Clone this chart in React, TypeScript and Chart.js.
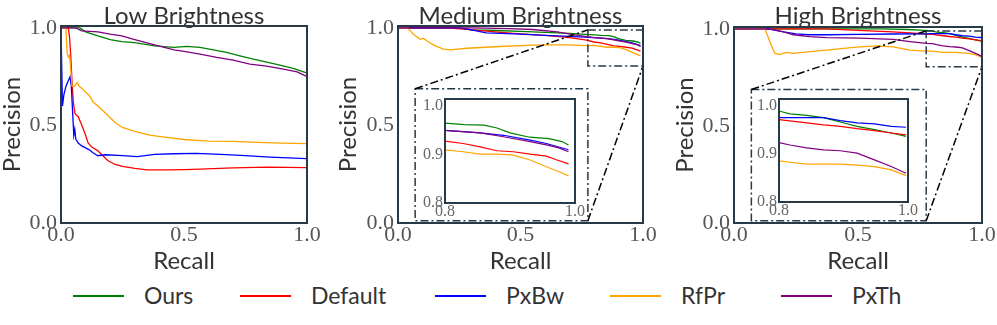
import React, { useEffect, useRef } from 'react';
import { Chart, registerables } from 'chart.js';

Chart.register(...registerables);

// ---------------- data ----------------
const SERIES_NAMES = ['Ours', 'Default', 'PxBw', 'RfPr', 'PxTh'];
const SERIES_COLORS = ['#008000', '#ff0000', '#0000ff', '#ffa500', '#800080'];
const PANEL_TITLES = ['Low Brightness', 'Medium Brightness', 'High Brightness'];
const MAIN_TICKS = [0, 0.5, 1.0];
const INSET_TICKS_X = [0.8, 1.0];
const INSET_TICKS_Y = [0.8, 0.9, 1.0];
const ZOOM_X = [0.775, 1.0];
const ZOOM_Y = [0.805, 0.99];

// Low brightness
const lowOursRecall = [0, 0.077, 0.1, 0.15, 0.2, 0.247, 0.3, 0.38, 0.46, 0.511, 0.565, 0.619, 0.673, 0.727, 0.782, 0.836, 0.89, 0.944, 0.998];
const lowOursPrecision = [1, 1, 0.98, 0.959, 0.94, 0.93, 0.925, 0.908, 0.9, 0.906, 0.9, 0.888, 0.875, 0.857, 0.84, 0.825, 0.81, 0.793, 0.77];
const lowDefaultRecall = [0, 0.03, 0.035, 0.04, 0.045, 0.05, 0.057, 0.07, 0.085, 0.1, 0.11, 0.125, 0.15, 0.17, 0.19, 0.22, 0.25, 0.3, 0.35, 0.43, 0.5, 0.565, 0.7, 0.836, 0.998];
const lowDefaultPrecision = [1, 1, 0.95, 0.85, 0.72, 0.62, 0.56, 0.545, 0.5, 0.45, 0.41, 0.39, 0.37, 0.345, 0.32, 0.3, 0.29, 0.28, 0.272, 0.272, 0.274, 0.276, 0.283, 0.286, 0.284];
const lowPxBwRecall = [0, 0.004, 0.006, 0.012, 0.02, 0.03, 0.037, 0.042, 0.048, 0.052, 0.056, 0.06, 0.07, 0.084, 0.1, 0.115, 0.13, 0.15, 0.18, 0.25, 0.31, 0.38, 0.46, 0.55, 0.65, 0.75, 0.85, 0.998];
const lowPxBwPrecision = [1, 1, 0.6, 0.66, 0.7, 0.73, 0.75, 0.7, 0.55, 0.45, 0.48, 0.43, 0.41, 0.395, 0.385, 0.375, 0.36, 0.345, 0.35, 0.345, 0.34, 0.352, 0.355, 0.357, 0.352, 0.345, 0.338, 0.33];
const lowRfPrRecall = [0, 0.02, 0.025, 0.03, 0.035, 0.04, 0.045, 0.055, 0.065, 0.075, 0.085, 0.1, 0.11, 0.12, 0.13, 0.15, 0.175, 0.2, 0.225, 0.25, 0.3, 0.36, 0.42, 0.5, 0.6, 0.7, 0.8, 0.9, 0.998];
const lowRfPrPrecision = [1, 1, 0.87, 0.85, 0.86, 0.78, 0.7, 0.7, 0.72, 0.7, 0.69, 0.67, 0.66, 0.645, 0.62, 0.6, 0.57, 0.54, 0.51, 0.49, 0.47, 0.45, 0.44, 0.428, 0.42, 0.418, 0.413, 0.41, 0.407];
const lowPxThRecall = [0, 0.06, 0.084, 0.15, 0.2, 0.247, 0.3, 0.38, 0.46, 0.5, 0.565, 0.633, 0.7, 0.768, 0.836, 0.904, 0.96, 0.998];
const lowPxThPrecision = [1, 1, 0.985, 0.98, 0.968, 0.959, 0.94, 0.913, 0.888, 0.88, 0.866, 0.849, 0.835, 0.815, 0.804, 0.789, 0.775, 0.752];

// Medium brightness
const medOursRecall = [0, 0.25, 0.3, 0.4, 0.5, 0.6, 0.7, 0.8, 0.83, 0.86, 0.88, 0.9, 0.93, 0.96, 0.98, 0.99];
const medOursPrecision = [1, 1, 0.99, 0.987, 0.982, 0.977, 0.972, 0.965, 0.962, 0.961, 0.955, 0.945, 0.936, 0.933, 0.927, 0.92];
const medDefaultRecall = [0, 0.2, 0.28, 0.35, 0.42, 0.5, 0.6, 0.7, 0.77, 0.8, 0.828, 0.854, 0.88, 0.905, 0.931, 0.956, 0.97, 0.99];
const medDefaultPrecision = [1, 1, 0.993, 0.985, 0.977, 0.97, 0.962, 0.95, 0.938, 0.928, 0.923, 0.916, 0.908, 0.906, 0.901, 0.897, 0.89, 0.881];
const medPxBwRecall = [0, 0.25, 0.3, 0.36, 0.42, 0.5, 0.6, 0.7, 0.8, 0.854, 0.89, 0.931, 0.956, 0.99];
const medPxBwPrecision = [1, 1, 0.99, 0.975, 0.972, 0.968, 0.962, 0.957, 0.95, 0.945, 0.94, 0.93, 0.923, 0.91];
const medRfPrRecall = [0, 0.04, 0.05, 0.063, 0.09, 0.104, 0.117, 0.144, 0.185, 0.212, 0.28, 0.416, 0.552, 0.62, 0.69, 0.77, 0.8, 0.828, 0.854, 0.88, 0.905, 0.931, 0.956, 0.982, 0.99];
const medRfPrPrecision = [1, 1, 0.985, 0.968, 0.942, 0.947, 0.934, 0.913, 0.891, 0.888, 0.896, 0.905, 0.912, 0.913, 0.913, 0.909, 0.91, 0.906, 0.901, 0.901, 0.899, 0.889, 0.875, 0.861, 0.856];
const medPxThRecall = [0, 0.3, 0.45, 0.55, 0.65, 0.72, 0.8, 0.854, 0.89, 0.931, 0.956, 0.975, 0.99];
const medPxThPrecision = [1, 1, 0.997, 0.992, 0.98, 0.965, 0.95, 0.945, 0.937, 0.927, 0.92, 0.914, 0.906];

// High brightness
const highOursRecall = [0, 0.6, 0.7, 0.75, 0.8, 0.817, 0.843, 0.869, 0.895, 0.921, 0.948, 0.974, 0.997];
const highOursPrecision = [1, 1, 0.997, 0.994, 0.99, 0.984, 0.981, 0.976, 0.967, 0.958, 0.951, 0.944, 0.937];
const highDefaultRecall = [0, 0.37, 0.5, 0.64, 0.777, 0.8, 0.843, 0.869, 0.895, 0.921, 0.948, 0.974, 0.997];
const highDefaultPrecision = [1, 1, 0.993, 0.985, 0.974, 0.972, 0.965, 0.961, 0.958, 0.953, 0.949, 0.944, 0.94];
const highPxBwRecall = [0, 0.14, 0.2, 0.25, 0.3, 0.374, 0.5, 0.64, 0.777, 0.8, 0.869, 0.895, 0.921, 0.948, 0.974, 0.997];
const highPxBwPrecision = [1, 1, 0.985, 0.975, 0.97, 0.97, 0.972, 0.974, 0.975, 0.976, 0.976, 0.97, 0.965, 0.963, 0.958, 0.956];
const highRfPrRecall = [0, 0.125, 0.14, 0.155, 0.165, 0.185, 0.212, 0.239, 0.306, 0.374, 0.441, 0.508, 0.575, 0.642, 0.71, 0.777, 0.8, 0.817, 0.843, 0.895, 0.921, 0.948, 0.974, 0.997];
const highRfPrPrecision = [1, 1, 0.95, 0.9, 0.874, 0.869, 0.879, 0.874, 0.883, 0.891, 0.9, 0.908, 0.913, 0.908, 0.891, 0.886, 0.886, 0.883, 0.879, 0.879, 0.877, 0.874, 0.867, 0.855];
const highPxThRecall = [0, 0.14, 0.2, 0.24, 0.306, 0.374, 0.508, 0.642, 0.71, 0.777, 0.8, 0.817, 0.843, 0.869, 0.895, 0.921, 0.948, 0.974, 0.997];
const highPxThPrecision = [1, 1, 0.985, 0.97, 0.96, 0.955, 0.953, 0.946, 0.935, 0.926, 0.924, 0.919, 0.913, 0.909, 0.907, 0.902, 0.888, 0.874, 0.86];

type Series = { r: number[]; p: number[] };
const PANEL_SERIES: Series[][] = [
  [
    { r: lowOursRecall, p: lowOursPrecision },
    { r: lowDefaultRecall, p: lowDefaultPrecision },
    { r: lowPxBwRecall, p: lowPxBwPrecision },
    { r: lowRfPrRecall, p: lowRfPrPrecision },
    { r: lowPxThRecall, p: lowPxThPrecision },
  ],
  [
    { r: medOursRecall, p: medOursPrecision },
    { r: medDefaultRecall, p: medDefaultPrecision },
    { r: medPxBwRecall, p: medPxBwPrecision },
    { r: medRfPrRecall, p: medRfPrPrecision },
    { r: medPxThRecall, p: medPxThPrecision },
  ],
  [
    { r: highOursRecall, p: highOursPrecision },
    { r: highDefaultRecall, p: highDefaultPrecision },
    { r: highPxBwRecall, p: highPxBwPrecision },
    { r: highRfPrRecall, p: highRfPrPrecision },
    { r: highPxThRecall, p: highPxThPrecision },
  ],
];

// ---------------- layout / style ----------------
const SPINE = '#263a48';
const TICK_COLOR = '#555';
const TEXT_COLOR = '#333';
const SERIF = "'Liberation Serif', 'DejaVu Serif', serif";
const MAIN_LAYOUT = [
  { left: 0, width: 330, yWidth: 61, padRight: 23, titleBottom: -2, inset: false },
  { left: 336, width: 330, yWidth: 62, padRight: 23, titleBottom: -2, inset: true },
  { left: 673, width: 324, yWidth: 61, padRight: 15, titleBottom: -1, inset: true },
];
const INSET_LAYOUT: Record<number, { left: number; top: number; width: number; height: number; padTop: number }> = {
  1: { left: 418, top: 89, width: 172, height: 133, padTop: 10 },
  2: { left: 752, top: 89, width: 171, height: 132, padTop: 9 },
};
// inset frame in the main axes' data units
const FRAME_X = [0.07, 0.775];
const FRAME_Y = [0.012, 0.688];
const LEGEND_X = [73, 240, 435, 610, 781];

function buildDatasets(series: Series[], width: number) {
  return series.map((s, k) => ({
    label: SERIES_NAMES[k],
    data: s.r.map((x, j) => ({ x, y: s.p[j] })),
    borderColor: SERIES_COLORS[k],
    backgroundColor: SERIES_COLORS[k],
    borderWidth: width,
    pointRadius: 0,
    pointHoverRadius: 0,
    fill: false,
    tension: 0,
    order: SERIES_NAMES.length - k,
  }));
}

const spinePlugin = {
  id: 'spineBox',
  afterDraw(chart: any) {
    const { ctx, chartArea: a } = chart;
    ctx.save();
    ctx.strokeStyle = SPINE;
    ctx.lineWidth = 2;
    ctx.setLineDash([]);
    ctx.strokeRect(a.left, a.top, a.right - a.left, a.bottom - a.top);
    ctx.restore();
  },
};

const zoomPlugin = {
  id: 'zoomMarks',
  afterDatasetsDraw(chart: any) {
    const { ctx } = chart;
    const xs = chart.scales.x;
    const ys = chart.scales.y;
    const rx0 = xs.getPixelForValue(ZOOM_X[0]);
    const rx1 = xs.getPixelForValue(ZOOM_X[1]);
    const ry0 = ys.getPixelForValue(ZOOM_Y[0]);
    const ry1 = ys.getPixelForValue(ZOOM_Y[1]);
    const fx0 = xs.getPixelForValue(FRAME_X[0]);
    const fx1 = xs.getPixelForValue(FRAME_X[1]);
    const fy0 = ys.getPixelForValue(FRAME_Y[0]);
    const fy1 = ys.getPixelForValue(FRAME_Y[1]);
    ctx.save();
    ctx.lineWidth = 1.5;
    ctx.setLineDash([8, 3, 2, 3]);
    ctx.strokeStyle = SPINE;
    ctx.strokeRect(rx0, ry1, rx1 - rx0, ry0 - ry1);
    ctx.strokeRect(fx0, fy1, fx1 - fx0, fy0 - fy1);
    ctx.strokeStyle = '#000';
    ctx.beginPath();
    ctx.moveTo(fx0, fy1);
    ctx.lineTo(rx0, ry1);
    ctx.moveTo(fx1, fy0);
    ctx.lineTo(rx1, ry0);
    ctx.stroke();
    ctx.restore();
  },
};

const fmt = (v: any) => Number(v).toFixed(1);

function mainConfig(i: number): any {
  const L = MAIN_LAYOUT[i];
  const tickFont = { family: SERIF, size: 22, lineHeight: 1, weight: 'normal' };
  const labelFont = { family: 'Lato', size: 24, lineHeight: 1, weight: 'normal' };
  return {
    type: 'line',
    data: { datasets: buildDatasets(PANEL_SERIES[i], 1.3) },
    plugins: L.inset ? [zoomPlugin, spinePlugin] : [spinePlugin],
    options: {
      responsive: false,
      animation: false,
      devicePixelRatio: 1,
      events: [],
      layout: { padding: { left: 0, right: L.padRight, top: 0, bottom: 2 } },
      plugins: {
        legend: { display: false },
        tooltip: { enabled: false },
        title: {
          display: true,
          text: PANEL_TITLES[i],
          fullSize: false,
          color: TEXT_COLOR,
          font: labelFont,
          padding: { top: 4, bottom: L.titleBottom },
        },
      },
      scales: {
        x: {
          type: 'linear',
          min: 0,
          max: 1,
          afterBuildTicks: (s: any) => {
            s.ticks = MAIN_TICKS.map((value) => ({ value }));
          },
          afterFit: (s: any) => {
            s.height = 50;
          },
          ticks: { callback: fmt, font: tickFont, color: TICK_COLOR, padding: 1, maxRotation: 0, autoSkip: false },
          grid: { display: false, drawTicks: false },
          border: { display: false },
          title: { display: true, text: 'Recall', font: labelFont, color: TEXT_COLOR, padding: 0 },
        },
        y: {
          type: 'linear',
          min: 0,
          max: 1.01,
          afterBuildTicks: (s: any) => {
            s.ticks = MAIN_TICKS.map((value) => ({ value }));
          },
          afterFit: (s: any) => {
            s.width = L.yWidth;
          },
          ticks: { callback: fmt, font: tickFont, color: TICK_COLOR, padding: 4, autoSkip: false },
          grid: { display: false, drawTicks: false },
          border: { display: false },
          title: { display: true, text: 'Precision', font: labelFont, color: TEXT_COLOR, padding: 0 },
        },
      },
    },
  };
}

function insetConfig(i: number): any {
  const L = INSET_LAYOUT[i];
  const tickFont = { family: SERIF, size: 16, lineHeight: 1, weight: 'normal' };
  return {
    type: 'line',
    data: { datasets: buildDatasets(PANEL_SERIES[i], 1.2) },
    plugins: [spinePlugin],
    options: {
      responsive: false,
      animation: false,
      devicePixelRatio: 1,
      events: [],
      layout: { padding: { left: 0, right: 15, top: L.padTop, bottom: 0 } },
      plugins: { legend: { display: false }, tooltip: { enabled: false }, title: { display: false } },
      scales: {
        x: {
          type: 'linear',
          min: 0.8,
          max: 1.0,
          afterBuildTicks: (s: any) => {
            s.ticks = INSET_TICKS_X.map((value) => ({ value }));
          },
          afterFit: (s: any) => {
            s.height = 19;
          },
          ticks: { callback: fmt, font: tickFont, color: '#666', padding: 1, maxRotation: 0, autoSkip: false },
          grid: { display: false, drawTicks: false },
          border: { display: false },
        },
        y: {
          type: 'linear',
          min: 0.8,
          max: 1.015,
          afterBuildTicks: (s: any) => {
            s.ticks = INSET_TICKS_Y.map((value) => ({ value }));
          },
          afterFit: (s: any) => {
            s.width = 27;
          },
          ticks: { callback: fmt, font: tickFont, color: '#666', padding: 2, autoSkip: false },
          grid: { display: false, drawTicks: false },
          border: { display: false },
        },
      },
    },
  };
}

function ChartCanvas(props: { left: number; top: number; width: number; height: number; make: () => any }) {
  const ref = useRef<HTMLCanvasElement>(null);
  useEffect(() => {
    const chart = new Chart(ref.current as HTMLCanvasElement, props.make());
    return () => chart.destroy();
  }, []);
  return (
    <canvas
      ref={ref}
      width={props.width}
      height={props.height}
      style={{ position: 'absolute', left: props.left, top: props.top, width: props.width, height: props.height }}
    />
  );
}

export default function App() {
  return (
    <div style={{ position: 'absolute', left: 0, top: 0, width: 997, height: 325, background: '#fff', overflow: 'hidden' }}>
      {MAIN_LAYOUT.map((L, i) => (
        <ChartCanvas key={'m' + i} left={L.left} top={0} width={L.width} height={275} make={() => mainConfig(i)} />
      ))}
      {[1, 2].map((i) => {
        const L = INSET_LAYOUT[i];
        return <ChartCanvas key={'i' + i} left={L.left} top={L.top} width={L.width} height={L.height} make={() => insetConfig(i)} />;
      })}
      {SERIES_NAMES.map((name, k) => (
        <React.Fragment key={name}>
          <div
            style={{
              position: 'absolute',
              left: LEGEND_X[k],
              top: 295,
              width: 51,
              height: 1.5,
              background: SERIES_COLORS[k],
            }}
          />
          <div
            style={{
              position: 'absolute',
              left: LEGEND_X[k] + 71,
              top: 281,
              height: 28,
              lineHeight: '28px',
              fontFamily: 'Lato',
              fontSize: 23,
              color: TEXT_COLOR,
              whiteSpace: 'nowrap',
            }}
          >
            {name}
          </div>
        </React.Fragment>
      ))}
    </div>
  );
}
